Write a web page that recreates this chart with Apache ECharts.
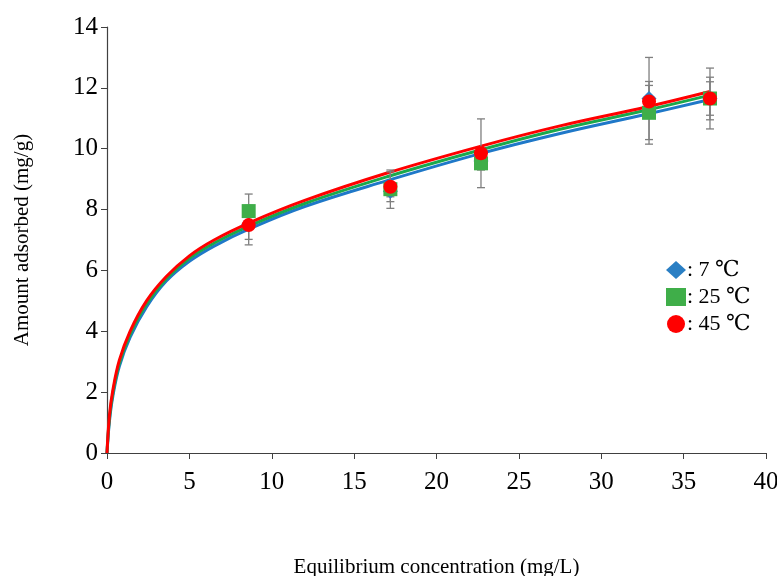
<!DOCTYPE html>
<html><head><meta charset="utf-8">
<script src="https://cdn.jsdelivr.net/npm/echarts@6/dist/echarts.min.js"></script>
<style>html,body{margin:0;padding:0;background:#fff}#c{width:777px;height:576px}</style>
</head><body><div id="c"></div>
<script>
// Measured concentrations (mg/L)
var concX = [8.6, 17.2, 22.7, 32.9, 36.6];
// Amount adsorbed (mg/g)
var q7 = [7.5, 8.6, 9.6, 11.65, 11.65];
var q25 = [7.95, 8.67, 9.52, 11.18, 11.65];
var q45 = [7.49, 8.75, 9.85, 11.55, 11.65];
// error (± mg/g)
var err7 = [0.48, 0.18, 0.15, 1.35, 1.0];
var err25 = [0.56, 0.63, 0.22, 1.03, 0.7];
var err45 = [0.65, 0.49, 1.13, 0.53, 0.55];
// fitted curves: [C, q]
var fitC = [0, 0.15, 0.35, 0.75, 1.4, 2.4, 3.6, 5, 6.5, 8.7, 12, 17, 22.6, 27.5, 32.8, 36.6];
var fit7 = [0, 1.05, 1.85, 2.85, 3.8, 4.8, 5.65, 6.3, 6.8, 7.38, 8.1, 8.95, 9.83, 10.5, 11.14, 11.62];
var fit25 = [0, 1.15, 1.95, 2.95, 3.9, 4.9, 5.73, 6.4, 6.9, 7.48, 8.2, 9.08, 9.95, 10.64, 11.27, 11.76];
var fit45 = [0, 1.25, 2.05, 3.05, 4.0, 5.0, 5.8, 6.48, 7.0, 7.58, 8.3, 9.2, 10.07, 10.75, 11.38, 11.88];
var xTicks = [0, 5, 10, 15, 20, 25, 30, 35, 40];
var yTicks = [0, 2, 4, 6, 8, 10, 12, 14];
var names = ['7 \u2103', '25 \u2103', '45 \u2103'];
var colorsLine = ['#1f78c8', '#1aa84c', '#ff0000'];
var colorsPt = ['#2a7fc4', '#3fae49', '#ff0000'];

function pairs(xs, ys){ return xs.map(function(x,i){ return [x, ys[i]]; }); }
function errData(xs, ys, es){ return xs.map(function(x,i){ return [x, ys[i]-es[i], ys[i]+es[i]]; }); }

var font = '"Liberation Serif", "DejaVu Serif", serif';
var chart = echarts.init(document.getElementById('c'));
var series = [];
[fit7, fit25, fit45].forEach(function(f, k){
  series.push({type:'line', name:'fit'+k, data: pairs(fitC, f), smooth: 0.4, showSymbol:false,
    lineStyle:{color: colorsLine[k], width: 3}, z: 2+k, silent:true});
});
[err7, err25, err45].forEach(function(e, k){
  var ys = [q7, q25, q45][k];
  series.push({type:'custom', name:'err'+k, data: errData(concX, ys, e), z: 6, silent:true,
    renderItem: function(params, api){
      var x = api.value(0);
      var lo = api.coord([x, api.value(1)]);
      var hi = api.coord([x, api.value(2)]);
      var w = 4;
      var st = {stroke:'#7f7f7f', lineWidth:1.3};
      return {type:'group', children:[
        {type:'line', shape:{x1:lo[0], y1:lo[1], x2:hi[0], y2:hi[1]}, style:st},
        {type:'line', shape:{x1:lo[0]-w, y1:lo[1], x2:lo[0]+w, y2:lo[1]}, style:st},
        {type:'line', shape:{x1:hi[0]-w, y1:hi[1], x2:hi[0]+w, y2:hi[1]}, style:st}
      ]};
    }});
});
var syms = ['diamond', 'rect', 'circle'];
var sizes = [15, 14, 14];
[q7, q25, q45].forEach(function(q, k){
  series.push({type:'scatter', name: names[k], data: pairs(concX, q), symbol: syms[k], symbolSize: sizes[k],
    itemStyle:{color: colorsPt[k], opacity:1}, z: 10+k});
});

chart.setOption({
  animation:false,
  backgroundColor:'#fff',
  grid:{left:107, top:27, right:11, bottom:123, containLabel:false, outerBoundsMode:'none'},
  legend:{data: names.map(function(n,k){ return {name:n, icon: k===0?'diamond':(k===1?'rect':'circle')}; }),
    orient:'vertical', left:661, top:254, itemWidth:20, itemHeight:18, itemGap:5,
    formatter: function(n){ return ': ' + n; },
    textStyle:{fontFamily:font, fontSize:22, color:'#000', padding:[0,0,0,-4]}},
  xAxis:{type:'value', min:0, max:40, interval:5,
    name:'Equilibrium concentration (mg/L)', nameLocation:'middle', nameGap:104,
    nameTextStyle:{fontFamily:font, fontSize:21, color:'#000'},
    axisLine:{lineStyle:{color:'#404040', width:1.2}},
    axisTick:{show:true, length:6, lineStyle:{color:'#404040'}},
    axisLabel:{fontFamily:font, fontSize:25, color:'#000', margin:17},
    splitLine:{show:false}},
  yAxis:{type:'value', min:0, max:14, interval:2,
    name:'Amount adsorbed (mg/g)', nameLocation:'middle', nameGap:74,
    nameTextStyle:{fontFamily:font, fontSize:21, color:'#000'},
    axisLine:{show:true, lineStyle:{color:'#404040', width:1.2}},
    axisTick:{show:true, length:6, lineStyle:{color:'#404040'}},
    axisLabel:{fontFamily:font, fontSize:25, color:'#000', margin:9},
    splitLine:{show:false}},
  series: series
});
</script></body></html>
